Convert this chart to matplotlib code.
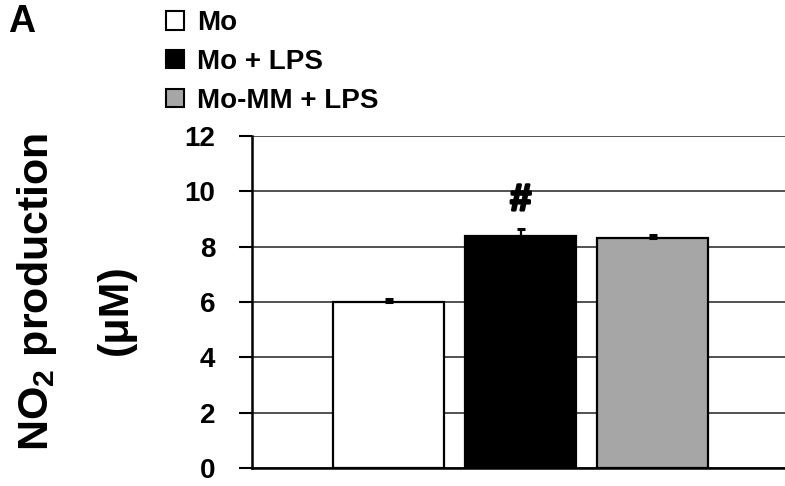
import matplotlib
matplotlib.use("Agg")
import matplotlib.pyplot as plt
from matplotlib.patches import Patch
import matplotlib.patheffects as pe

plt.rcParams['font.family'] = ['Liberation Sans', 'DejaVu Sans']
plt.rcParams['font.weight'] = 'bold'
plt.rcParams['mathtext.fontset'] = 'custom'
plt.rcParams['mathtext.rm'] = 'Liberation Sans:bold'
plt.rcParams['mathtext.bf'] = 'Liberation Sans:bold'
plt.rcParams['mathtext.default'] = 'bf'

# Data
categories = ["Mo", "Mo + LPS", "Mo-MM + LPS"]
values = [6.0, 8.4, 8.3]
errors_upper = [0.12, 0.24, 0.13]
colors = ["#ffffff", "#000000", "#a6a6a6"]
yticks = [0, 2, 4, 6, 8, 10, 12]
sig_label = "#"
sig_index = 1
sig_y = 9.68

fig = plt.figure(figsize=(7.85, 4.86), dpi=100)
ax = fig.add_axes([252 / 785, 1 - 468 / 486, 1 - 252 / 785, (468 - 136) / 486])

x = list(range(len(categories)))
ax.set_axisbelow(True)
ax.yaxis.grid(True, color="#222222", linewidth=1.1)
ax.bar(x, values, width=0.84, color=colors, edgecolor="black", linewidth=1.6,
       yerr=[[0] * len(values), errors_upper], capsize=2.8,
       error_kw=dict(elinewidth=1.6, capthick=2.2, ecolor="black"), zorder=2)

ax.set_ylim(0, 12)
ax.set_xlim(-1.034, 3.0)
ax.set_yticks(yticks)
ax.set_yticklabels([str(t) for t in yticks], fontsize=20, fontweight="bold")
ax.tick_params(axis="y", length=9.5, width=1.5, pad=17, direction="out")
ax.set_xticks([])
for s in ["top", "right"]:
    ax.spines[s].set_visible(False)
ax.spines["left"].set_linewidth(1.8)
ax.spines["bottom"].set_linewidth(1.8)

ax.text(sig_index, sig_y, sig_label, ha="center", va="center", fontsize=27, fontweight="bold",
        path_effects=[pe.withStroke(linewidth=2, foreground="black")])

# y-axis label (two lines)
fig.text(37 / 785, 1 - 292 / 486, "NO$_2$ production", rotation=90, ha="center", va="center",
         fontsize=31, fontweight="bold")
fig.text(116 / 785, 1 - 310 / 486, "(μM)", rotation=90, ha="center", va="center",
         fontsize=31, fontweight="bold")

handles = [Patch(facecolor=c, edgecolor="black", linewidth=1.5) for c in colors]
fig.legend(handles, categories, loc="upper left", bbox_to_anchor=(166 / 785, 1 - 10 / 486),
           frameon=False, handlelength=0.65, handleheight=0.65,
           handletextpad=0.47, labelspacing=0.46, borderpad=0, borderaxespad=0,
           prop={"weight": "bold", "size": 20})

fig.text(8 / 785, 1 - 4 / 486, "A", fontsize=27, fontweight="bold", va="top", ha="left")

fig.savefig("out.png", dpi=100)
